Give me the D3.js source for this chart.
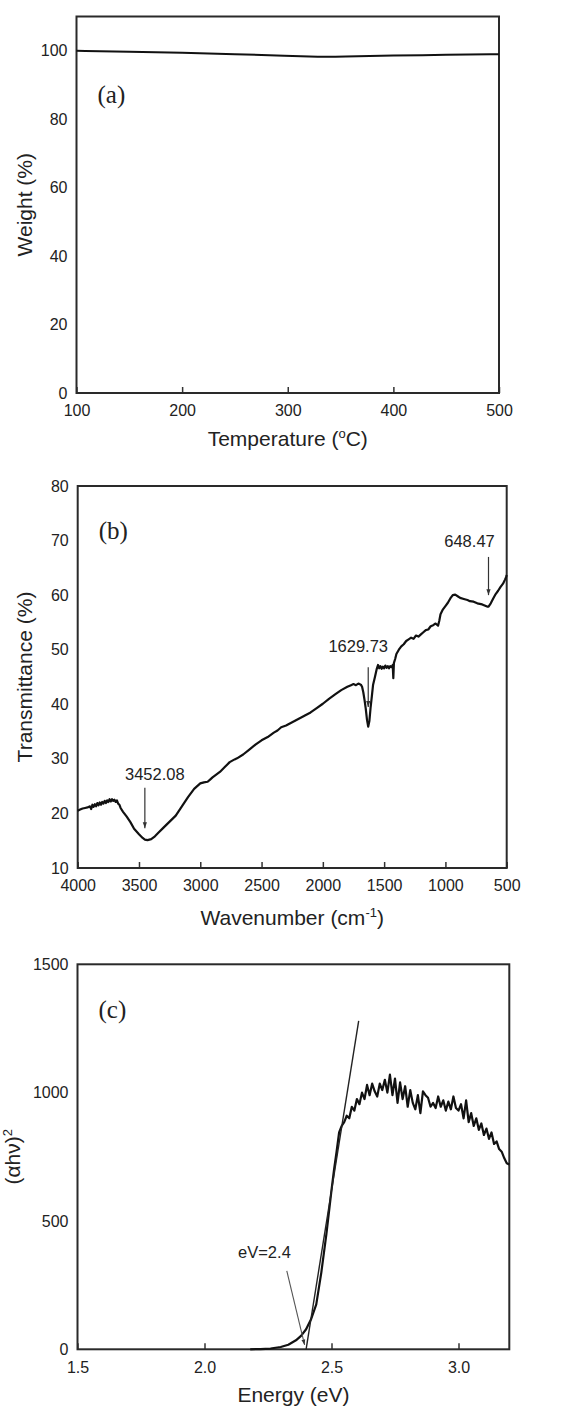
<!DOCTYPE html>
<html>
<head>
<meta charset="utf-8">
<script src="https://cdn.jsdelivr.net/npm/d3@7"></script>
<style>
  body { margin: 0; background: #fff; }
  svg { display: block; }
</style>
</head>
<body>
<svg id="chart" width="573" height="1410" font-family="Liberation Sans, Arial, sans-serif" fill="#222"></svg>
<script>
// (a) TGA
const tempA = [100, 150, 200, 250, 300, 330, 350, 400, 450, 500]
const weightA = [100.0, 99.7, 99.4, 99.0, 98.5, 98.2, 98.25, 98.6, 98.8, 99.0]
const ticksAx = [100, 200, 300, 400, 500]
const ticksAy = [0, 20, 40, 60, 80, 100]

// (b) FTIR
const waveB = [4000, 3980, 3960, 3940, 3920, 3900, 3890, 3880, 3870, 3860, 3850, 3840, 3830, 3820, 3810,
  3800, 3790, 3780, 3770, 3760, 3750, 3740, 3730, 3720, 3710, 3700, 3690, 3680, 3670, 3660, 3650,
  3630, 3600, 3570, 3540, 3500, 3470, 3452, 3430, 3400, 3370, 3340, 3300, 3250, 3200, 3150, 3100,
  3050, 3000, 2970, 2940, 2920, 2900, 2870, 2840, 2800, 2760, 2720, 2700, 2650, 2600, 2550, 2500,
  2450, 2400, 2370, 2340, 2300, 2250, 2200, 2150, 2100, 2050, 2000, 1950, 1900, 1850, 1800, 1770,
  1750, 1730, 1710, 1690, 1680, 1670, 1660, 1650, 1640, 1630, 1620, 1610, 1600, 1590, 1575, 1560,
  1550, 1540, 1530, 1520, 1510, 1500, 1490, 1480, 1470, 1460, 1450, 1440, 1430, 1425, 1420, 1410,
  1400, 1380, 1360, 1340, 1320, 1300, 1280, 1260, 1240, 1220, 1200, 1180, 1160, 1140, 1120, 1100,
  1080, 1060, 1050, 1040, 1020, 1000, 980, 960, 940, 920, 900, 880, 850, 820, 800, 770, 740, 720,
  700, 680, 660, 648, 630, 610, 590, 570, 550, 530, 515, 505, 500]
const transB = [20.5, 20.7, 20.9, 21.0, 21.1, 21.3, 20.8, 21.6, 21.2, 21.7, 21.3, 21.9, 21.5, 22.0, 21.6,
  22.1, 21.8, 22.3, 21.9, 22.4, 22.1, 22.6, 22.2, 22.6, 22.3, 22.5, 22.1, 22.4, 21.8, 21.6, 21.0,
  20.3, 19.4, 18.4, 17.2, 16.2, 15.5, 15.2, 15.1, 15.3, 15.8, 16.5, 17.4, 18.5, 19.6, 21.3, 23.0,
  24.5, 25.5, 25.7, 25.8, 26.2, 26.6, 27.1, 27.6, 28.5, 29.4, 29.9, 30.1, 30.8, 31.7, 32.6, 33.4,
  34.0, 34.8, 35.2, 35.8, 36.1, 36.7, 37.3, 37.9, 38.5, 39.3, 40.1, 41.0, 41.8, 42.6, 43.2, 43.5,
  43.7, 43.5, 43.8, 43.6, 43.2, 42.2, 40.8, 39.2, 37.2, 35.9, 37.0, 39.5, 41.5, 43.6, 45.0, 46.5,
  47.2, 46.6, 47.0, 46.5, 46.9, 46.6, 47.1, 46.7, 47.0, 46.6, 47.0, 46.8, 47.2, 44.8, 47.6, 48.3,
  49.2, 50.0, 50.6, 51.0, 51.6, 51.9, 52.2, 52.0, 52.6, 52.4, 52.8, 53.2, 53.6, 53.7, 54.3, 54.5,
  54.8, 54.4, 55.3, 56.5, 57.4, 58.0, 58.6, 59.4, 60.0, 60.1, 59.8, 59.5, 59.3, 59.1, 58.9, 58.8, 58.5, 58.4,
  58.3, 58.1, 57.9, 57.9, 58.5, 59.4, 60.2, 60.8, 61.5, 62.1, 62.8, 63.3, 63.7]
const ticksBx = [4000, 3500, 3000, 2500, 2000, 1500, 1000, 500]
const ticksBy = [10, 20, 30, 40, 50, 60, 70, 80]
const peakWave = [3452.08, 1629.73, 648.47]
const peakLabels = ["3452.08", "1629.73", "648.47"]
const peakArrowTop = [24.7, 46.8, 67.0]
const peakArrowEnd = [17.3, 39.5, 60.0]
const peakLabelY = [26.1, 49.6, 68.8]

// (c) Tauc plot
const energyC = [2.18, 2.22, 2.26, 2.30, 2.33, 2.36, 2.38, 2.40, 2.42, 2.44, 2.46, 2.48, 2.50, 2.51, 2.52,
  2.53, 2.54, 2.55, 2.56, 2.57, 2.58, 2.59, 2.60, 2.61, 2.62, 2.63, 2.64, 2.65, 2.66, 2.67, 2.68,
  2.69, 2.70, 2.71, 2.72, 2.73, 2.74, 2.75, 2.76, 2.77, 2.78, 2.79, 2.80, 2.81, 2.82, 2.83, 2.84,
  2.85, 2.86, 2.87, 2.88, 2.89, 2.90, 2.91, 2.92, 2.93, 2.94, 2.95, 2.96, 2.97, 2.98, 2.99, 3.00,
  3.01, 3.02, 3.03, 3.04, 3.05, 3.06, 3.07, 3.08, 3.09, 3.10, 3.11, 3.12, 3.13, 3.14, 3.15, 3.16,
  3.17, 3.18, 3.19, 3.20]
const absC = [0, 1, 3, 9, 18, 35, 52, 78, 118, 175, 300, 450, 620, 700, 770,
  845, 870, 885, 910, 900, 945, 930, 975, 955, 1000, 975, 1030, 990, 1035, 1005, 985,
  1035, 1010, 1050, 1000, 1070, 990, 1055, 960, 1040, 975, 1025, 945, 1010, 960, 935, 990,
  920, 1005, 990, 980, 945, 960, 940, 985, 945, 970, 930, 965, 935, 985, 940, 930,
  955, 900, 970, 885, 920, 870, 900, 855, 880, 835, 860, 820, 845, 800, 810, 780,
  770, 745, 725, 720]
const ticksCx = [1.5, 2.0, 2.5, 3.0]
const ticksCy = [0, 500, 1000, 1500]
const tangentE = [2.4, 2.607]
const tangentV = [0, 1280]
const gapLabel = "eV=2.4"
const gapLineE = [2.324, 2.394]
const gapLineV = [306, 17]
const gapLabelAt = [2.236, 356]

const svg = d3.select("#chart")

svg.append("defs").append("marker")
  .attr("id", "head")
  .attr("viewBox", "0 0 10 10")
  .attr("refX", 10).attr("refY", 5)
  .attr("markerWidth", 5).attr("markerHeight", 5)
  .attr("orient", "auto")
  .append("path").attr("d", "M0,1.5L10,5L0,8.5z").attr("fill", "#333")

// draw a framed panel, returns the group
const panel = (box, x, y, xticks, yticks, xfmt, yfmt) => {
  const g = svg.append("g")

  g.append("g")
    .attr("transform", `translate(0,${box.bottom})`)
    .call(d3.axisBottom(x).tickValues(xticks).tickFormat(xfmt).tickSizeInner(-6).tickSizeOuter(0).tickPadding(12))
    .call((a) => a.select(".domain").remove())
    .call((a) => a.selectAll("line").attr("stroke", "#333").attr("stroke-width", 1.5))
    .call((a) => a.attr("font-size", 16).attr("font-family", null).selectAll("text").attr("fill", "#222"))

  g.append("g")
    .attr("transform", `translate(${box.left},0)`)
    .call(d3.axisLeft(y).tickValues(yticks).tickFormat(yfmt).tickSize(0).tickPadding(9))
    .call((a) => a.select(".domain").remove())
    .call((a) => a.attr("font-size", 16).attr("font-family", null).selectAll("text").attr("fill", "#222"))

  g.append("rect")
    .attr("x", box.left).attr("y", box.top)
    .attr("width", box.right - box.left).attr("height", box.bottom - box.top)
    .attr("fill", "none").attr("stroke", "#2a2a2a").attr("stroke-width", 2)
  return g
}

const panelTag = (box, s) => {
  svg.append("text")
    .attr("x", box.left + 21).attr("y", box.tag)
    .attr("font-family", "Liberation Serif, Times New Roman, serif")
    .attr("font-size", 25)
    .text(s)
}

const lineGen = (x, y) => d3.line().x((d) => x(d[0])).y((d) => y(d[1]))

// ---------- (a)
const boxA = { left: 76.5, right: 499, top: 16.5, bottom: 393, tag: 103 }
const xA = d3.scaleLinear().domain([100, 500]).range([boxA.left, boxA.right])
const yA = d3.scaleLinear().domain([0, 110]).range([boxA.bottom, boxA.top])
const gA = panel(boxA, xA, yA, ticksAx, ticksAy, d3.format("d"), d3.format("d"))
gA.append("path")
  .datum(tempA.map((t, i) => [t, weightA[i]]))
  .attr("d", lineGen(xA, yA).curve(d3.curveBasis))
  .attr("fill", "none").attr("stroke", "#111").attr("stroke-width", 2)
panelTag(boxA, "(a)")

const titleA = svg.append("text").attr("x", (boxA.left + boxA.right) / 2).attr("y", 446)
  .attr("text-anchor", "middle").attr("font-size", 21)
titleA.append("tspan").text("Temperature (")
titleA.append("tspan").attr("font-size", 13).attr("dy", -8).text("o")
titleA.append("tspan").attr("dy", 8).text("C)")

svg.append("text")
  .attr("transform", `translate(32,${(boxA.top + boxA.bottom) / 2}) rotate(-90)`)
  .attr("text-anchor", "middle").attr("font-size", 21)
  .text("Weight (%)")

// ---------- (b)
const boxB = { left: 77.7, right: 506.7, top: 486, bottom: 868, tag: 539 }
const xB = d3.scaleLinear().domain([4000, 500]).range([boxB.left, boxB.right])
const yB = d3.scaleLinear().domain([10, 80]).range([boxB.bottom, boxB.top])
const gB = panel(boxB, xB, yB, ticksBx, ticksBy, d3.format("d"), d3.format("d"))
gB.append("path")
  .datum(waveB.map((w, i) => [w, transB[i]]))
  .attr("d", lineGen(xB, yB))
  .attr("fill", "none").attr("stroke", "#111").attr("stroke-width", 2.2).attr("stroke-linejoin", "round")
panelTag(boxB, "(b)")

peakWave.forEach((w, i) => {
  gB.append("line")
    .attr("x1", xB(w)).attr("x2", xB(w))
    .attr("y1", yB(peakArrowTop[i])).attr("y2", yB(peakArrowEnd[i]))
    .attr("stroke", "#333").attr("stroke-width", 1.2)
    .attr("marker-end", "url(#head)")
  gB.append("text")
    .attr("x", xB(w) + (i === 0 ? 10 : -10) + (i === 2 ? -9 : 0)).attr("y", yB(peakLabelY[i]))
    .attr("text-anchor", "middle").attr("font-size", 16.5)
    .text(peakLabels[i])
})

const titleB = svg.append("text").attr("x", (boxB.left + boxB.right) / 2).attr("y", 925)
  .attr("text-anchor", "middle").attr("font-size", 21)
titleB.append("tspan").text("Wavenumber (cm")
titleB.append("tspan").attr("font-size", 13).attr("dy", -8).text("-1")
titleB.append("tspan").attr("dy", 8).text(")")

svg.append("text")
  .attr("transform", `translate(32,${(boxB.top + boxB.bottom) / 2}) rotate(-90)`)
  .attr("text-anchor", "middle").attr("font-size", 21)
  .text("Transmittance (%)")

// ---------- (c)
const boxC = { left: 77.5, right: 509.3, top: 964.3, bottom: 1349.3, tag: 1018 }
const xC = d3.scaleLinear().domain([1.5, 3.2]).range([boxC.left, boxC.right])
const yC = d3.scaleLinear().domain([0, 1500]).range([boxC.bottom, boxC.top])
const gC = panel(boxC, xC, yC, ticksCx, ticksCy, d3.format(".1f"), d3.format("d"))
gC.append("path")
  .datum(energyC.map((e, i) => [e, absC[i]]))
  .attr("d", lineGen(xC, yC))
  .attr("fill", "none").attr("stroke", "#111").attr("stroke-width", 2.2).attr("stroke-linejoin", "round")
gC.append("path")
  .datum(tangentE.map((e, i) => [e, tangentV[i]]))
  .attr("d", lineGen(xC, yC))
  .attr("fill", "none").attr("stroke", "#222").attr("stroke-width", 1.4)
gC.append("line")
  .attr("x1", xC(gapLineE[0])).attr("y1", yC(gapLineV[0]))
  .attr("x2", xC(gapLineE[1])).attr("y2", yC(gapLineV[1]))
  .attr("stroke", "#555").attr("stroke-width", 1.1)
  .attr("marker-end", "url(#head)")
gC.append("text")
  .attr("x", xC(gapLabelAt[0])).attr("y", yC(gapLabelAt[1]))
  .attr("text-anchor", "middle").attr("font-size", 16.5)
  .text(gapLabel)
panelTag(boxC, "(c)")

svg.append("text").attr("x", (boxC.left + boxC.right) / 2).attr("y", 1402)
  .attr("text-anchor", "middle").attr("font-size", 21)
  .text("Energy (eV)")

const titleC = svg.append("text")
  .attr("transform", `translate(20,${(boxC.top + boxC.bottom) / 2}) rotate(-90)`)
  .attr("text-anchor", "middle").attr("font-size", 21)
titleC.append("tspan").text("(\u03b1h\u03bd)")
titleC.append("tspan").attr("font-size", 13).attr("dy", -8).text("2")
</script>
</body>
</html>
